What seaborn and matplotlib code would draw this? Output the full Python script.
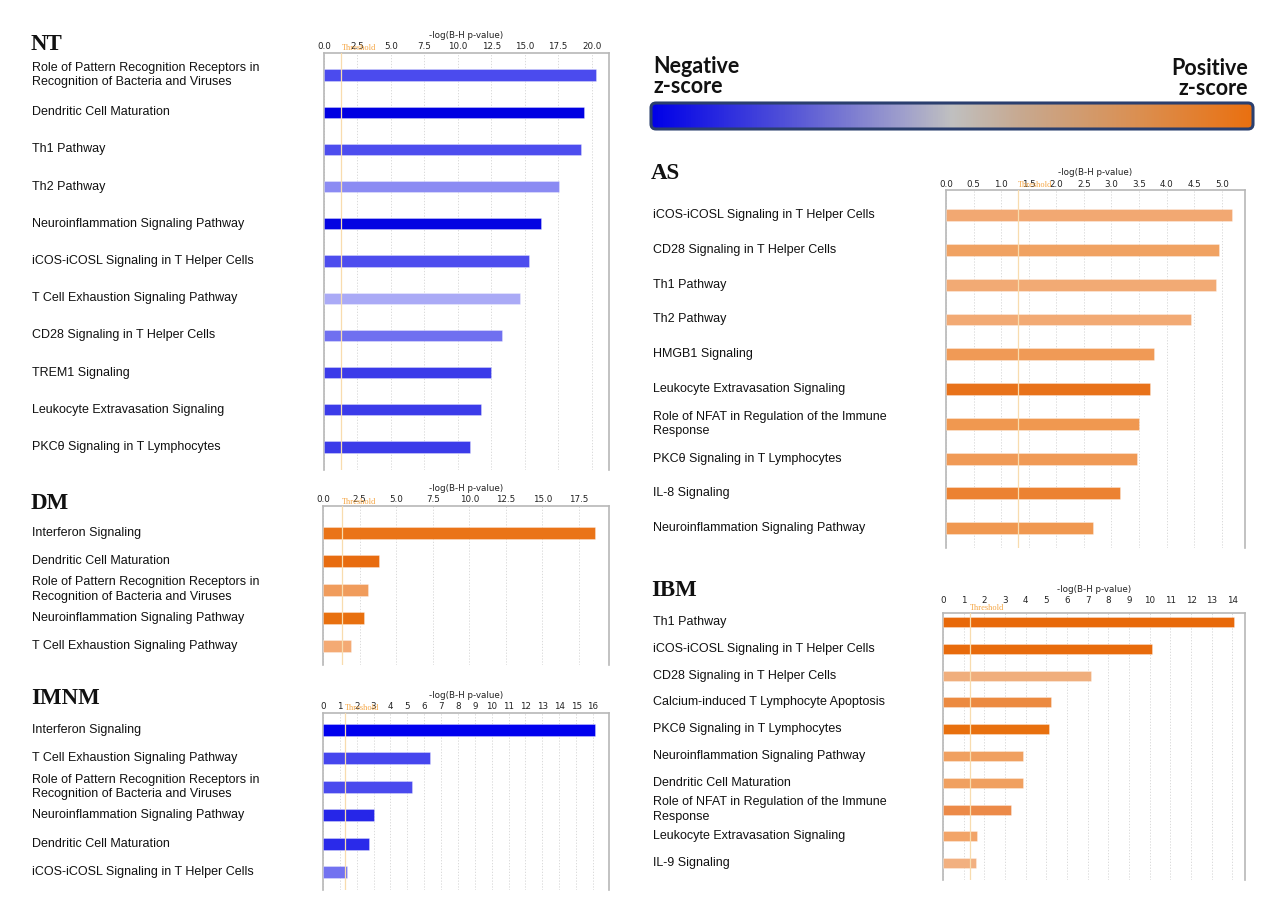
import numpy as np
import pandas as pd
import matplotlib
matplotlib.use("Agg")
import matplotlib.pyplot as plt
import seaborn as sns
from matplotlib.patches import FancyBboxPatch
from matplotlib.colors import LinearSegmentedColormap
from matplotlib.transforms import blended_transform_factory

# ---------------- data ----------------
nt_paths = ["Role of Pattern Recognition Receptors in\nRecognition of Bacteria and Viruses",
            "Dendritic Cell Maturation", "Th1 Pathway", "Th2 Pathway",
            "Neuroinflammation Signaling Pathway", "iCOS-iCOSL Signaling in T Helper Cells",
            "T Cell Exhaustion Signaling Pathway", "CD28 Signaling in T Helper Cells",
            "TREM1 Signaling", "Leukocyte Extravasation Signaling",
            "PKCθ Signaling in T Lymphocytes"]
nt_vals = [20.3, 19.4, 19.2, 17.6, 16.2, 15.3, 14.65, 13.3, 12.45, 11.7, 10.9]
nt_colors = ["#4b4bee", "#0000e2", "#4d4dee", "#8b8bf3", "#0404e2", "#4d4dee",
             "#aaaaf6", "#7070f0", "#3b3be9", "#3b3be9", "#3b3be9"]

dm_paths = ["Interferon Signaling", "Dendritic Cell Maturation",
            "Role of Pattern Recognition Receptors in\nRecognition of Bacteria and Viruses",
            "Neuroinflammation Signaling Pathway", "T Cell Exhaustion Signaling Pathway"]
dm_vals = [18.6, 3.8, 3.1, 2.8, 1.9]
dm_colors = ["#ea7418", "#e86c10", "#f09c5c", "#e8700f", "#f4aa74"]

imnm_paths = ["Interferon Signaling", "T Cell Exhaustion Signaling Pathway",
              "Role of Pattern Recognition Receptors in\nRecognition of Bacteria and Viruses",
              "Neuroinflammation Signaling Pathway", "Dendritic Cell Maturation",
              "iCOS-iCOSL Signaling in T Helper Cells"]
imnm_vals = [16.1, 6.35, 5.3, 3.0, 2.7, 1.4]
imnm_colors = ["#0000ee", "#4646ee", "#4a4aee", "#2626e8", "#2a2aea", "#7272f0"]

as_paths = ["iCOS-iCOSL Signaling in T Helper Cells", "CD28 Signaling in T Helper Cells",
            "Th1 Pathway", "Th2 Pathway", "HMGB1 Signaling",
            "Leukocyte Extravasation Signaling",
            "Role of NFAT in Regulation of the Immune\nResponse",
            "PKCθ Signaling in T Lymphocytes", "IL-8 Signaling",
            "Neuroinflammation Signaling Pathway"]
as_vals = [5.18, 4.95, 4.89, 4.44, 3.77, 3.70, 3.50, 3.46, 3.15, 2.66]
as_colors = ["#f2a872", "#f0a262", "#f2aa74", "#f2aa74", "#f09a56", "#e8721a",
             "#f09850", "#f09a56", "#ec8232", "#f09850"]

ibm_paths = ["Th1 Pathway", "iCOS-iCOSL Signaling in T Helper Cells",
             "CD28 Signaling in T Helper Cells", "Calcium-induced T Lymphocyte Apoptosis",
             "PKCθ Signaling in T Lymphocytes", "Neuroinflammation Signaling Pathway",
             "Dendritic Cell Maturation",
             "Role of NFAT in Regulation of the Immune\nResponse",
             "Leukocyte Extravasation Signaling", "IL-9 Signaling"]
ibm_vals = [14.08, 10.12, 7.17, 5.21, 5.13, 3.86, 3.86, 3.31, 1.65, 1.6]
ibm_colors = ["#e8690a", "#e86b0c", "#f0ae7c", "#ec8a40", "#e8700e", "#f0a060",
              "#f0a060", "#ec8a48", "#f2a468", "#f2b080"]

threshold = 1.3

W, H = 1280, 915
fig = plt.figure(figsize=(W / 100, H / 100), dpi=100)
sns.set_style("white")
plt.rcParams['font.family'] = ['DejaVu Sans']

# overlay axes in pixel coordinates
ov = fig.add_axes([0, 0, 1, 1], zorder=0)
ov.set_xlim(0, W)
ov.set_ylim(H, 0)
ov.axis("off")
ov.patch.set_alpha(0)


def px_axes(left, top, right, bottom):
    return fig.add_axes([left / W, 1 - bottom / H, (right - left) / W, (bottom - top) / H])


def panel(name, paths, vals, colors, box, xmax, ylim, ticks, fmt, width,
          label_x, title_xy, tpad=1.5):
    ax = px_axes(*box)
    df = pd.DataFrame({"path": paths, "val": vals})
    sns.barplot(data=df, x="val", y="path", hue="path", palette=colors, orient="h",
                width=width, saturation=1, legend=False, ax=ax,
                edgecolor=(1, 1, 1, 0.35), linewidth=0.6, zorder=3)
    ax.set_xlim(0, xmax)
    ax.set_ylim(*ylim)
    ax.set_yticks([])
    ax.set_ylabel("")
    ax.xaxis.tick_top()
    ax.xaxis.set_label_position("top")
    ax.set_xticks(ticks)
    ax.set_xticklabels([fmt.format(t) for t in ticks], fontsize=6.3, color="#222222")
    ax.tick_params(axis="x", length=0, pad=tpad)
    ax.set_xlabel("-log(B-H p-value)", fontsize=6.3, color="#222222", labelpad=3)
    for t in ticks:
        ax.axvline(t, color="#d4d4d4", lw=0.6, ls=(0, (1.5, 2)), zorder=1)
    ax.axvline(threshold, color="#f8dcae", lw=0.9, zorder=4)
    ax.text(threshold, 1.003, "Threshold", transform=blended_transform_factory(ax.transData, ax.transAxes),
            fontsize=6, color="#f5a440", family="Liberation Serif", ha="left", va="bottom")
    for s in ["left", "right", "top"]:
        ax.spines[s].set_color("#b8b8b8")
        ax.spines[s].set_linewidth(1.2)
    ax.spines["bottom"].set_visible(False)
    tr = blended_transform_factory(ov.transData, ax.transData)
    for i, p in enumerate(paths):
        ax.text(label_x, i, p, transform=tr, ha="left", va="center", fontsize=9,
                family="Liberation Sans", color="#111111", linespacing=1.25, clip_on=False)
    ov.text(title_xy[0], title_xy[1], name, fontsize=16.5, fontweight="bold",
            family="Liberation Serif", ha="left", va="baseline", color="#111111")
    return ax


panel("NT", nt_paths, nt_vals, nt_colors, (324, 53, 609, 470), 21.3, (10.62, -0.59),
      np.arange(0, 20.01, 2.5), "{:.1f}", 0.3, 32, (31, 50))
panel("DM", dm_paths, dm_vals, dm_colors, (323, 506, 609, 665), 19.55, (4.67, -0.96),
      np.arange(0, 17.51, 2.5), "{:.1f}", 0.42, 32, (31, 509))
panel("IMNM", imnm_paths, imnm_vals, imnm_colors, (323, 713, 609, 890), 16.95, (5.63, -0.6),
      np.arange(0, 16.01, 1), "{:.0f}", 0.42, 32, (31, 704))
panel("AS", as_paths, as_vals, as_colors, (946, 190, 1245, 548), 5.42, (9.57, -0.72),
      np.arange(0, 5.01, 0.5), "{:.1f}", 0.34, 653, (651, 179), tpad=1.0)
panel("IBM", ibm_paths, ibm_vals, ibm_colors, (943, 613, 1245, 880), 14.61, (9.63, -0.34),
      np.arange(0, 14.01, 1), "{:.0f}", 0.37, 653, (651, 596), tpad=5.5)

# ---------------- z-score colour legend ----------------
cmap = LinearSegmentedColormap.from_list(
    "z", [(0.0, "#0000e8"), (0.22, "#5050d8"), (0.42, "#a0a0cc"), (0.5, "#c0c0c0"),
          (0.62, "#c8a88e"), (0.82, "#dc8e4e"), (1.0, "#ea7010")])
grad = np.linspace(0, 1, 512).reshape(1, -1)
x0, x1, y0, y1 = 651, 1253, 103, 129
im = ov.imshow(grad, cmap=cmap, aspect="auto", extent=[x0, x1, y1, y0], zorder=1)
box = FancyBboxPatch((x0, y0), x1 - x0, y1 - y0, boxstyle="round,pad=0,rounding_size=5",
                     transform=ov.transData, facecolor="none", edgecolor="#2b3f6e",
                     lw=2.2, zorder=2)
ov.add_patch(box)
clip = FancyBboxPatch((x0, y0), x1 - x0, y1 - y0, boxstyle="round,pad=0,rounding_size=5",
                      transform=ov.transData, facecolor="none", edgecolor="none")
ov.add_patch(clip)
im.set_clip_path(clip)
ov.set_xlim(0, W)
ov.set_ylim(H, 0)

ov.text(653, 97, "Negative\nz-score", fontsize=15.5, fontweight="bold", family="Lato",
        ha="left", va="bottom", color="#111111", linespacing=0.95)
ov.text(1248, 99, "Positive\nz-score", fontsize=15.5, fontweight="bold", family="Lato",
        ha="right", va="bottom", color="#111111", linespacing=0.95, multialignment="right")

fig.savefig("out.png", dpi=100, facecolor="white")
